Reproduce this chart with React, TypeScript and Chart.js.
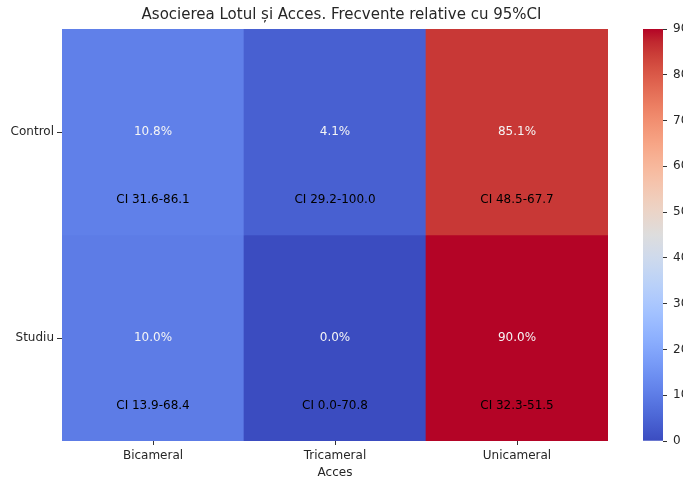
import React, { useEffect, useRef } from 'react';
import { Chart, registerables } from 'chart.js';
Chart.register(...registerables);

const titleText = 'Asocierea Lotul și Acces. Frecvente relative cu 95%CI';
const xTitle = 'Acces';
const rows = ['Control', 'Studiu'];
const cols = ['Bicameral', 'Tricameral', 'Unicameral'];
const pctControl = [10.8, 4.1, 85.1];
const pctStudiu = [10.0, 0.0, 90.0];
const ciControl = ['CI 31.6-86.1', 'CI 29.2-100.0', 'CI 48.5-67.7'];
const ciStudiu = ['CI 13.9-68.4', 'CI 0.0-70.8', 'CI 32.3-51.5'];
const values = [pctControl, pctStudiu];
const cis = [ciControl, ciStudiu];
const vmin = 0;
const vmax = 90;
const colorTicks = [0, 10, 20, 30, 40, 50, 60, 70, 80, 90];

const CW: number[][] = [
  [0, 59, 76, 192], [0.03125, 68, 90, 204], [0.0625, 77, 104, 215], [0.09375, 87, 117, 225],
  [0.125, 98, 130, 234], [0.15625, 108, 142, 241], [0.1875, 119, 154, 247], [0.21875, 130, 165, 251],
  [0.25, 141, 176, 254], [0.28125, 152, 185, 255], [0.3125, 163, 194, 255], [0.34375, 174, 201, 253],
  [0.375, 184, 208, 249], [0.40625, 194, 213, 244], [0.4375, 204, 217, 238], [0.46875, 213, 219, 230],
  [0.5, 221, 221, 221], [0.53125, 229, 216, 209], [0.5625, 236, 211, 197], [0.59375, 241, 204, 185],
  [0.625, 245, 196, 173], [0.65625, 247, 187, 160], [0.6875, 247, 177, 148], [0.71875, 247, 166, 135],
  [0.75, 244, 154, 123], [0.78125, 241, 141, 111], [0.8125, 236, 127, 99], [0.84375, 229, 112, 88],
  [0.875, 222, 96, 77], [0.90625, 213, 80, 66], [0.9375, 203, 62, 56], [0.96875, 192, 40, 47],
  [1, 180, 4, 38],
];

function coolwarm(t: number): string {
  t = Math.max(0, Math.min(1, t));
  for (let i = 0; i < CW.length - 1; i++) {
    const a = CW[i], b = CW[i + 1];
    if (t >= a[0] && t <= b[0]) {
      const f = (t - a[0]) / (b[0] - a[0]);
      const c = [1, 2, 3].map((k) => Math.round(a[k] + (b[k] - a[k]) * f));
      return `rgb(${c[0]},${c[1]},${c[2]})`;
    }
  }
  return 'rgb(180,4,38)';
}

const FONT = 'DejaVu Sans';
const TEXT = '#262626';
const FS = 12;

export default function App() {
  const mainRef = useRef<HTMLCanvasElement>(null);
  const barRef = useRef<HTMLCanvasElement>(null);

  useEffect(() => {
    document.body.style.margin = '0';
    const n = rows.length;
    const datasets = rows.map((r, ri) => {
      const base = n - 1 - ri;
      return {
        label: r,
        data: values[ri].map(() => [base, base + 1]),
        backgroundColor: values[ri].map((v) => coolwarm((v - vmin) / (vmax - vmin))),
        borderWidth: 0,
        barPercentage: 1,
        categoryPercentage: 1,
        grouped: false,
      };
    });

    const annotPlugin = {
      id: 'annot',
      afterDatasetsDraw(chart: any) {
        const ctx = chart.ctx;
        const xs = chart.scales.x;
        const ys = chart.scales.y;
        ctx.save();
        ctx.textAlign = 'center';
        ctx.textBaseline = 'middle';
        ctx.font = `${FS}px "${FONT}"`;
        rows.forEach((_, ri) => {
          const base = n - 1 - ri;
          cols.forEach((_, ci) => {
            const x = xs.getPixelForValue(ci);
            ctx.fillStyle = '#f5f5f5';
            ctx.fillText(`${values[ri][ci].toFixed(1)}%`, x, ys.getPixelForValue(base + 0.5));
            ctx.fillStyle = '#000000';
            ctx.fillText(cis[ri][ci], x, ys.getPixelForValue(base + 0.17));
          });
        });
        ctx.restore();
      },
    };

    const main = new Chart(mainRef.current!, {
      type: 'bar',
      data: { labels: cols, datasets: datasets as any },
      plugins: [annotPlugin],
      options: {
        animation: false,
        responsive: false,
        layout: { padding: 0 },
        plugins: {
          legend: { display: false },
          tooltip: { enabled: false },
          title: {
            display: true,
            text: titleText,
            color: TEXT,
            font: { family: FONT, size: 15, weight: 'normal' },
            padding: { top: 6, bottom: 5 },
          },
        },
        scales: {
          x: {
            type: 'category',
            offset: true,
            grid: { display: true, offset: false, drawOnChartArea: false, drawTicks: true, tickLength: 4, color: '#333' },
            border: { display: false },
            ticks: { color: TEXT, font: { family: FONT, size: FS }, padding: 4, maxRotation: 0 },
            title: { display: true, text: xTitle, color: TEXT, font: { family: FONT, size: FS }, padding: { top: 0, bottom: 0 } },
            afterFit: (s: any) => { s.height = 39; },
          },
          y: {
            type: 'linear',
            min: 0,
            max: n,
            grid: { display: true, drawOnChartArea: false, drawTicks: true, tickLength: 5, color: '#333' },
            border: { display: false },
            afterBuildTicks: (axis: any) => {
              axis.ticks = rows.map((_, i) => ({ value: n - 1 - i + 0.5 }));
            },
            ticks: {
              color: TEXT,
              font: { family: FONT, size: FS },
              padding: 3,
              callback: (v: any) => rows[n - 1 - Math.floor(Number(v))],
            },
            afterFit: (s: any) => { s.width = 62; },
          },
          yspace: {
            type: 'linear',
            position: 'right',
            display: true,
            grid: { display: false },
            border: { display: false },
            ticks: { display: false },
            afterFit: (s: any) => { s.width = 75; },
          },
        },
      } as any,
    });

    const cbar = new Chart(barRef.current!, {
      type: 'bar',
      data: {
        labels: [''],
        datasets: [
          {
            data: [[vmin, vmax]],
            borderWidth: 0,
            barPercentage: 1,
            categoryPercentage: 1,
            backgroundColor: (c: any) => {
              const chart = c.chart;
              const ys = chart.scales.y;
              const area = chart.chartArea;
              if (!ys || !area) return coolwarm(0.5);
              const y0 = ys.getPixelForValue(vmin);
              const y1 = ys.getPixelForValue(vmax);
              if (!isFinite(y0) || !isFinite(y1) || y0 === y1) return coolwarm(0.5);
              const g = chart.ctx.createLinearGradient(0, y0, 0, y1);
              CW.forEach((s) => g.addColorStop(s[0], `rgb(${s[1]},${s[2]},${s[3]})`));
              return g;
            },
          } as any,
        ],
      },
      options: {
        animation: false,
        responsive: false,
        layout: { padding: { left: 43, right: 0, top: 29, bottom: 39 } },
        plugins: { legend: { display: false }, tooltip: { enabled: false }, title: { display: false } },
        scales: {
          x: { display: false, offset: true },
          y: {
            type: 'linear',
            position: 'right',
            min: vmin,
            max: vmax,
            grid: { display: true, drawOnChartArea: false, drawTicks: true, tickLength: 4, color: '#333' },
            border: { display: false },
            afterBuildTicks: (axis: any) => {
              axis.ticks = colorTicks.map((v) => ({ value: v }));
            },
            ticks: { color: TEXT, font: { family: FONT, size: FS }, padding: 6 },
            afterFit: (s: any) => { s.width = 20; },
          },
        },
      } as any,
    });

    return () => {
      main.destroy();
      cbar.destroy();
    };
  }, []);

  return (
    <div style={{ position: 'relative', width: 683, height: 480, background: '#fff', overflow: 'hidden' }}>
      <canvas ref={mainRef} width={683} height={480} style={{ position: 'absolute', left: 0, top: 0, display: 'block' }} />
      <canvas ref={barRef} width={83} height={480} style={{ position: 'absolute', left: 600, top: 0, display: 'block' }} />
    </div>
  );
}
